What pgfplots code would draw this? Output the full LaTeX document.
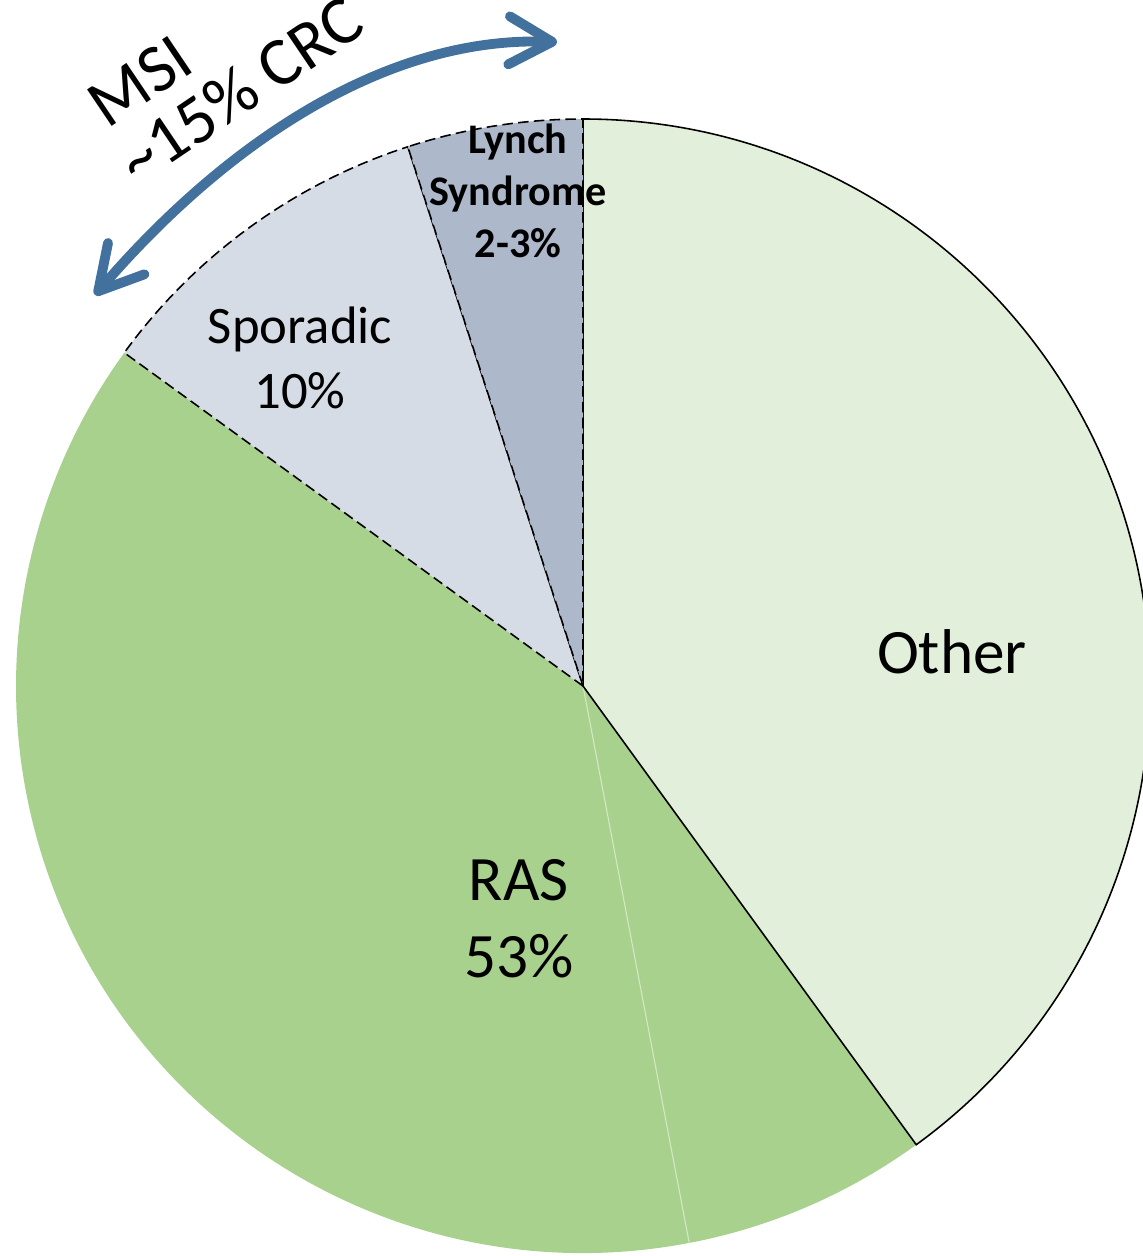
\documentclass[border=0pt]{standalone}
\usepackage{pgfplots}
\pgfplotsset{compat=1.18}
\usepackage{pgfplotstable}
\usetikzlibrary{arrows.meta}
\usepackage{fontspec}
\setmainfont{Carlito}

\definecolor{otherc}{HTML}{E2EFDA}
\definecolor{rasc}{HTML}{A9D18E}
\definecolor{sporc}{HTML}{D6DCE5}
\definecolor{lynchc}{HTML}{ADB9CA}
\definecolor{arrowc}{HTML}{41719C}

% shares in percent, clockwise from 12 o'clock
\pgfplotstableread{
slice share
Other 40
RASa 7
RASb 38
Sporadic 10
Lynch 5
}\piedata

\newcommand\pieR{5.67}
\newcommand\slice[3]{%
  \path[#3] (axis cs:0,0) -- (axis cs:{\pieR*cos(#1)},{\pieR*sin(#1)})
    arc[start angle=#1, end angle=#2, radius=\pieR cm] -- cycle;}

\begin{document}
\begin{tikzpicture}
\pgfplotstablegetelem{0}{share}\of\piedata \pgfmathsetmacro\angA{90-3.6*\pgfplotsretval}
\pgfplotstablegetelem{1}{share}\of\piedata \pgfmathsetmacro\angB{\angA-3.6*\pgfplotsretval}
\pgfplotstablegetelem{2}{share}\of\piedata \pgfmathsetmacro\angC{\angB-3.6*\pgfplotsretval}
\pgfplotstablegetelem{3}{share}\of\piedata \pgfmathsetmacro\angD{\angC-3.6*\pgfplotsretval}
\pgfplotstablegetelem{4}{share}\of\piedata \pgfmathsetmacro\angE{\angD-3.6*\pgfplotsretval}
\begin{axis}[hide axis, x=1cm, y=1cm,
  xmin=-5.83, xmax=5.60, ymin=-5.70, ymax=6.86]
% green pieces, no outline
\slice{\angB}{\angC}{fill=rasc}
\slice{\angA}{\angB}{fill=rasc}
\draw[rasc!50!white, line width=0.3pt] (axis cs:0,0) -- (axis cs:{\pieR*cos(\angB)},{\pieR*sin(\angB)});
\slice{90}{\angA}{fill=otherc, draw=black, line width=0.45pt}
\slice{\angC}{\angD}{fill=sporc, draw=black, line width=0.45pt, dash pattern=on 3pt off 1.5pt}
\slice{\angD}{\angE}{fill=lynchc, draw=black, line width=0.45pt, dash pattern=on 3pt off 1.5pt}

\node[font=\fontsize{18}{21.8}\selectfont] at (axis cs:3.69,0.34) {Other};
\node[align=center, font=\fontsize{18}{21.8}\selectfont] at (axis cs:-0.64,-2.33) {RAS\\53\%};
\node[align=center, font=\fontsize{15}{18.7}\selectfont] at (axis cs:-2.83,3.28) {Sporadic\\10\%};
\node[align=center, font=\bfseries\fontsize{12}{14.7}\selectfont] at (axis cs:-0.65,4.95) {Lynch\\Syndrome\\2-3\%};

% MSI annotation
\draw[arrowc, line width=2.8pt, line cap=round,
  {Straight Barb[length=4.3mm, width=4.8mm, round]}-{Straight Barb[length=4.3mm, width=4.8mm, round]}]
  (axis cs:-4.88,3.91) .. controls (axis cs:-3.6,5.4) and (axis cs:-2.0,6.5) .. (axis cs:-0.26,6.44);
\node[rotate=34, anchor=base west, font=\fontsize{19.5}{23}\selectfont, inner sep=0pt] at (axis cs:-4.76,5.56) {MSI};
\node[rotate=34, anchor=base west, font=\fontsize{19.5}{23}\selectfont, inner sep=0pt] at (axis cs:-4.46,4.99) {\textasciitilde15\% CRC};
\end{axis}
\end{tikzpicture}
\end{document}
